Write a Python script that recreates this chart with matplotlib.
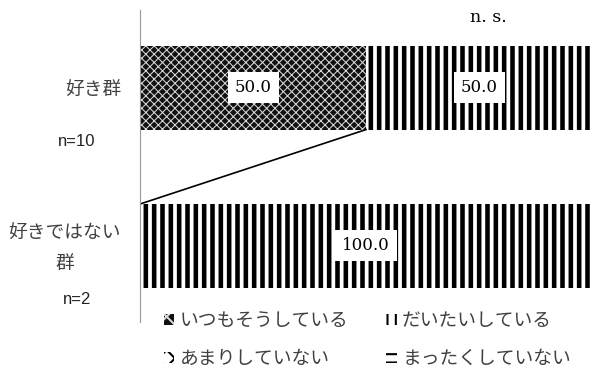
import matplotlib.pyplot as plt
from matplotlib.patches import Patch

plt.rcParams['font.family'] = ['Noto Sans CJK JP', 'DejaVu Sans']

groups = ['好き群', '好きではない\n群']
group_n = ['n=10', 'n=2']
series = ['いつもそうしている', 'だいたいしている', 'あまりしていない', 'まったくしていない']
always = [50.0, 0.0]
mostly = [50.0, 100.0]
rarely = [0.0, 0.0]
never = [0.0, 0.0]
note = 'n. s.'

styles = [
    dict(facecolor='#111111', edgecolor='#d8d8d8', hatch='xxxx', hlw=0.75),
    dict(facecolor='white', edgecolor='black', hatch='||', hlw=3.3),
    dict(facecolor='white', edgecolor='black', hatch='xx', hlw=1.0),
    dict(facecolor='white', edgecolor='black', hatch='--', hlw=3.3),
]

fig = plt.figure(figsize=(5.92, 3.76), dpi=100)
ax = fig.add_axes([0.2365, 0.1436, 0.7635, 0.8298])

ypos = list(range(len(groups)))
bar_h = 0.53
left = [0.0] * len(groups)
bounds = []
for name, vals, st in zip(series, [always, mostly, rarely, never], styles):
    plt.rcParams['hatch.linewidth'] = st['hlw']
    bars = ax.barh(ypos, vals, left=left, height=bar_h, color=st['facecolor'],
                   edgecolor=st['edgecolor'], hatch=st['hatch'], linewidth=0, label=name)
    for b in bars:
        if hasattr(b, 'set_hatch_linewidth'):
            b.set_hatch_linewidth(st['hlw'])
    for y, v, l in zip(ypos, vals, left):
        if v > 0:
            ax.text(l + v / 2, y, f'{v:.1f}', ha='center', va='center', fontsize=12,
                    family='DejaVu Serif',
                    bbox=dict(facecolor='white', edgecolor='none', pad=5))
    left = [l + v for l, v in zip(left, vals)]
    bounds.append(list(left))

# series lines between the two bars
for bnd in bounds[:-1]:
    if bnd[0] < 100 or bnd[1] < 100:
        ax.plot([bnd[0], bnd[1]], [ypos[0] + bar_h / 2, ypos[1] - bar_h / 2],
                color='black', lw=1.2)

ax.set_xlim(0, 100)
ax.set_ylim(1.48, -0.49)
ax.set_yticks([])
ax.set_xticks([])
for s in ['top', 'right', 'bottom']:
    ax.spines[s].set_visible(False)
ax.spines['left'].set_color('#999999')

ytr = ax.get_yaxis_transform()
for y, g, n in zip(ypos, groups, group_n):
    ax.text(-0.042, y + 0.015, g, transform=ytr, ha='right', va='center', fontsize=13.5,
            color='#404040', multialignment='center', linespacing=1.6)
    ax.text(-0.14, y + 0.34, n, transform=ytr, ha='center', va='center', fontsize=12,
            family='Liberation Sans', color='#222222')

fig.text(0.825, 0.953, note, ha='center', va='center', fontsize=12.5, family='DejaVu Serif')

handles = []
for name, st in zip(series, styles):
    plt.rcParams['hatch.linewidth'] = 1.5
    handles.append(Patch(facecolor=st['facecolor'], edgecolor=st['edgecolor'],
                         hatch=st['hatch'][:2], linewidth=0, label=name))
order = [0, 2, 1, 3]
fig.legend(handles=[handles[i] for i in order], loc='upper left',
           bbox_to_anchor=(164 / 592, 1 - 310 / 376), ncol=2, frameon=False,
           fontsize=13.5, handlelength=0.55, handleheight=0.55, handletextpad=0.3,
           columnspacing=2.0, labelspacing=0.9, borderpad=0, borderaxespad=0,
           labelcolor='#404040')

fig.savefig('out.png', dpi=100)
